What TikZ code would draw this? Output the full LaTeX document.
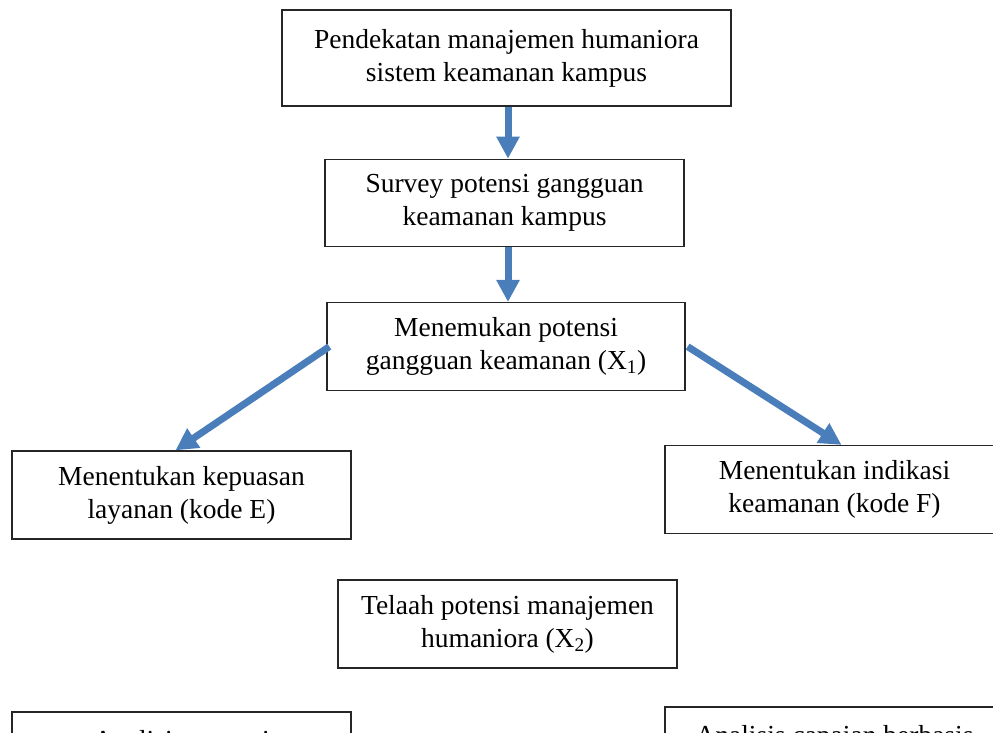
\documentclass[tikz,border=0pt]{standalone}
\usepackage{fontspec}
\setmainfont{Liberation Serif}
\usetikzlibrary{arrows.meta,positioning}
\definecolor{flowblue}{HTML}{4A7EBB}

\begin{document}
\begin{tikzpicture}[x=1pt,y=-1pt,every node/.style={font=\fontsize{27.5}{33}\selectfont},box/.style={draw=black!85,line width=1.3pt,align=center,minimum width=339pt,minimum height=88pt,inner sep=0pt},flow/.style={draw=flowblue,line width=7pt,-{Triangle[length=22pt,width=22pt]}}]
\clip (0,0) rectangle (993,732);
\node[box,minimum width=449pt,minimum height=96pt] (approach) at (506.5,58) {Pendekatan manajemen humaniora\\sistem keamanan kampus};
\node[box,minimum width=359pt,minimum height=87pt,below=52pt of approach,xshift=-2pt] (survey) {Survey potensi gangguan\\keamanan kampus};
\node[box,minimum width=358pt,below=55pt of survey,xshift=1.5pt] (finding) {Menemukan potensi\\gangguan keamanan (X\textsubscript{1})};
\node[box] (satisfaction) at (181.5,495) {Menentukan kepuasan\\layanan (kode E)};
\node[box] (indication) at (834.5,489.5) {Menentukan indikasi\\keamanan (kode F)};
\node[box] (review) at (507.5,624) {Telaah potensi manajemen\\humaniora (X\textsubscript{2})};
\node[box] (analysis) at (181.5,756) {Analisis potensi\\\mbox{}};
\node[box] (achievement) at (834.5,751) {Analisis capaian berbasis\\\mbox{}};
\draw[flow] ([xshift=1.5pt]approach.south) -- ([xshift=1.5pt]approach.south |- survey.north);
\draw[flow] ([xshift=3.5pt]survey.south) -- ([xshift=3.5pt]survey.south |- finding.north);
\draw[flow] ([xshift=3pt]finding.west) -- ([xshift=-6pt]satisfaction.north);
\draw[flow] ([xshift=2pt]finding.east) -- ([xshift=7pt]indication.north);
\end{tikzpicture}
\end{document}
